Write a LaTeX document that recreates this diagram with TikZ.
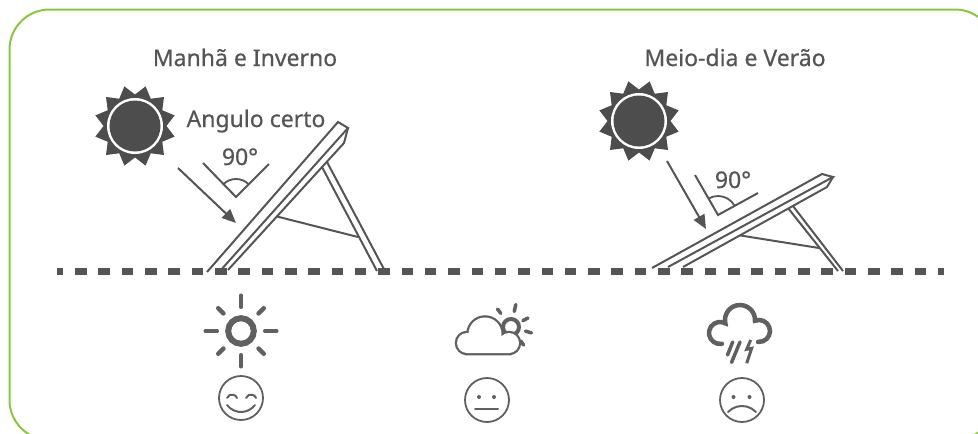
\documentclass[tikz,border=0pt]{standalone}
\usepackage{fontspec}
\setmainfont{Noto Sans}
\newfontfamily\lblfont{Noto Sans}[FakeBold=0.6]
\usetikzlibrary{arrows.meta,calc}
\definecolor{dk}{HTML}{4D4D4D}
\definecolor{ln}{HTML}{555555}
\definecolor{ic}{HTML}{606060}
\definecolor{gr}{HTML}{8CC63F}
\definecolor{tx}{HTML}{555555}
\begin{document}
\begin{tikzpicture}[x=1pt,y=-1pt,
  lbl/.style={font=\lblfont\fontsize{23}{28}\selectfont, text=tx, inner sep=0pt, anchor=base},
  pan/.style={draw=ln, line width=2pt, line join=miter},
  beam/.style={draw=ln, line width=2pt, -{Triangle[length=14pt,width=12pt]}},
  angarc/.style={draw=ln, line width=1.8pt},
  icon/.style={draw=ic, line width=4.5pt, line cap=round},
  facestyle/.style={draw=ic, line width=1.8pt},
  feat/.style={draw=ic, line width=2pt, line cap=round},
  bigsun/.pic={
    \fill[dk] (15:41pt) \foreach \k in {1,...,11}{ -- ({30*\k}:31.5pt) -- ({30*\k+15}:41pt)} -- (0:31.5pt) -- cycle;
    \fill[white] (0,0) circle[radius=28pt];
    \fill[dk] (0,0) circle[radius=25.5pt];
  }
]
\useasboundingbox (0,0) rectangle (978,434);
\begin{scope}
  \clip (0,0) rectangle (978,434);
  \draw[gr, line width=2pt, rounded corners=40pt] (9.5,9.5) rectangle (995,440);
\end{scope}

% titles
\node[lbl] (tA) at (245,66) {Manhã e Inverno};
\node[lbl] (tB) at (735,66) {Meio-dia e Verão};
\node[lbl] (tC) at (256,127) {Angulo certo};
\node[lbl] (d1) at (240,165) {90°};
\node[lbl] (d2) at (733,188) {90°};

% suns
\coordinate (sun1) at (135,126);
\coordinate (sun2) at (639,121);
\pic at (sun1) {bigsun};
\pic at (sun2) {bigsun};

% ground
\coordinate (g0) at (57,271.5);
\coordinate (g1) at (944,271.5);
\draw[ln, line width=7pt, dash pattern=on 11.5pt off 11.82pt, dash phase=5.2pt] (g0) -- (g1);

% panel 1
\coordinate (p1a) at (207,272);
\coordinate (p1b) at (338,122);
\coordinate (p1c) at (348,128);
\coordinate (p1d) at (220,271);
\coordinate (p1e) at (344,143);
\coordinate (p1f) at (228,270);
\draw[pan] (p1a) -- (p1b) -- (p1c) -- (p1d);
\draw[pan] (p1c) -- (p1e) -- (p1f);
\coordinate (l1a) at (322,167);
\coordinate (l1b) at (377,271);
\coordinate (l1c) at (327,162);
\coordinate (l1d) at (385,271);
\draw[pan] (l1a) -- (l1b);
\draw[pan] (l1c) -- (l1d);
\coordinate (c1a) at (277,216.5);
\coordinate (c1b) at (358,237);
\draw[pan] (c1a) -- (c1b);

% ray and angle 1
\coordinate (r1s) at (178,168);
\coordinate (r1e) at (236,223);
\draw[beam] (r1s) -- (r1e);
\coordinate (v1a) at (203,163);
\coordinate (v1o) at (236,197);
\coordinate (v1b) at (269,164);
\draw[pan] (v1a) -- (v1o) -- (v1b);
\draw[angarc] ($(v1o)+(45:18pt)$) arc[start angle=45, end angle=135, radius=18pt];

% panel 2
\coordinate (p2a) at (652,268);
\coordinate (p2b) at (822,174);
\coordinate (p2c) at (833,177);
\coordinate (p2d) at (668,267);
\coordinate (p2e) at (827,187);
\coordinate (p2f) at (683,267);
\draw[pan] (p2a) -- (p2b) -- (p2c) -- (p2d);
\draw[pan] (p2c) -- (p2e) -- (p2f);
\coordinate (l2a) at (788.4,208.5);
\coordinate (l2b) at (838,271);
\coordinate (l2c) at (792.9,205.9);
\coordinate (l2d) at (843,271);
\draw[pan] (l2a) -- (l2b);
\draw[pan] (l2c) -- (l2d);
\coordinate (c2a) at (740,235.4);
\coordinate (c2b) at (819,248);
\draw[pan] (c2a) -- (c2b);

% ray and angle 2
\coordinate (r2s) at (667,161);
\coordinate (r2e) at (706,229);
\draw[beam] (r2s) -- (r2e);
\coordinate (v2a) at (695,175);
\coordinate (v2o) at (718,215);
\coordinate (v2b) at (758,193);
\draw[pan] (v2a) -- (v2o) -- (v2b);
\draw[angarc] ($(v2o)+(29:19pt)$) arc[start angle=29, end angle=120, radius=19pt];

% sunny icon
\coordinate (sI) at (241,331);
\draw[draw=ic, line width=6pt] (sI) circle[radius=12.8pt];
\foreach \a in {0,90,180,270}
  \draw[icon] ($(sI)+(\a:24.2pt)$) -- ($(sI)+(\a:35.3pt)$);
\foreach \a in {45,135,225,315}
  \draw[icon] ($(sI)+(\a:24.8pt)$) -- ($(sI)+(\a:32.2pt)$);

% partly cloudy icon
\coordinate (cs) at (511,327);
\draw[draw=ic, line width=4pt] (cs) circle[radius=8pt];
\draw[draw=ic, line width=3.5pt, line cap=round] ($(cs)+(127:17pt)$) -- ($(cs)+(127:22.5pt)$);
\draw[draw=ic, line width=3.5pt, line cap=round] ($(cs)+(78:15.8pt)$) -- ($(cs)+(78:23pt)$);
\draw[draw=ic, line width=3.5pt, line cap=round] ($(cs)+(28:13.5pt)$) -- ($(cs)+(28:19.2pt)$);
\draw[draw=ic, line width=3.5pt, line cap=round] ($(cs)+(-16:15pt)$) -- ($(cs)+(-16:21.3pt)$);
\draw[draw=ic, line width=3.5pt, line cap=round] ($(cs)+(-55:17pt)$) -- ($(cs)+(-55:22pt)$);
\draw[draw=ic, line width=4.5pt] (467,343) circle[radius=10pt] (485,334) circle[radius=16.5pt]
  (509,343) circle[radius=10pt] (467,343) rectangle (509,353);
\fill[white] (467,343) circle[radius=10pt] (485,334) circle[radius=16.5pt]
  (509,343) circle[radius=10pt] (467,343) rectangle (509,353);

% storm icon
\draw[draw=ic, line width=4.5pt, line cap=round] (721.9,343.8)
  arc[start angle=-80, end angle=-299.4, radius=11pt]
  arc[start angle=193.1, end angle=-2.9, radius=15pt]
  arc[start angle=111.4, end angle=-95, radius=11pt];
\draw[draw=ic, line width=3.5pt, line cap=round] (732.7,342) -- (727.5,355);
\draw[draw=ic, line width=3.5pt, line cap=round] (740,342) -- (731.5,362.5);
\draw[draw=ic, line width=3pt, line join=miter] (750.7,340) -- (746.7,349.3) -- (751.7,348.3) -- (746.7,363.3);

% faces
\coordinate (f1) at (241,398);
\draw[facestyle] (f1) circle[radius=22pt];
\draw[feat] (227,398) arc[start angle=160, end angle=20, radius=5.3pt];
\draw[feat] (246,398) arc[start angle=160, end angle=20, radius=5.3pt];
\draw[feat] (227,405) arc[start angle=-143, end angle=-37, radius=17.5pt];

\coordinate (f2) at (487,400);
\draw[facestyle] (f2) circle[radius=22pt];
\fill[ic] (479,397) circle[radius=2pt] (494,397) circle[radius=2pt];
\draw[feat] (475,408.5) -- (498,408.5);

\coordinate (f3) at (742,400);
\draw[facestyle] (f3) circle[radius=22pt];
\fill[ic] (733.5,397) circle[radius=2pt] (749.5,397) circle[radius=2pt];
\draw[feat] (728,412) arc[start angle=136.5, end angle=43.5, radius=19.3pt];
\end{tikzpicture}
\end{document}
